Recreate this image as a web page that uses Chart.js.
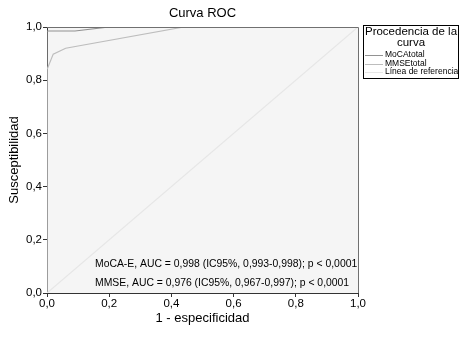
<!DOCTYPE html>
<html>
<head>
<meta charset="utf-8">
<script src="https://cdn.jsdelivr.net/npm/chart.js@4/dist/chart.umd.min.js"></script>
<style>
  html, body { margin: 0; padding: 0; background: #fff; }
  #wrap { width: 468px; height: 337px; }
</style>
</head>
<body>
<div id="wrap"><canvas id="roc" width="468" height="337"></canvas></div>
<script>
// ROC curve points (x = 1 - especificidad, y = susceptibilidad)
const mocaX = [0, 0, 0.09, 0.2, 1];
const mocaY = [0, 0.985, 0.985, 1, 1];
const mmseX = [0, 0, 0.02, 0.06, 0.44, 1];
const mmseY = [0, 0.84, 0.898, 0.92, 1, 1];
const refX = [0, 1];
const refY = [0, 1];

const seriesNames = ['MoCAtotal', 'MMSEtotal', 'Línea de referencia'];
const seriesColors = ['#929292', '#bdbdbd', '#e6e6e6'];
const notes = [
  'MoCA-E, AUC = 0,998 (IC95%, 0,993-0,998); p < 0,0001',
  'MMSE, AUC = 0,976 (IC95%, 0,967-0,997); p < 0,0001'
];

const font = 'Liberation Sans, Arial, sans-serif';
const toPoints = (xs, ys) => xs.map((x, i) => ({ x: x, y: ys[i] }));
const fmt = v => v.toFixed(1).replace('.', ',');

const decor = {
  id: 'decor',
  beforeDraw(chart) {
    const { ctx, chartArea: a } = chart;
    ctx.save();
    ctx.fillStyle = '#f5f5f5';
    ctx.fillRect(a.left, a.top, a.right - a.left, a.bottom - a.top);
    ctx.restore();
  },
  afterDraw(chart) {
    const { ctx, chartArea: a } = chart;
    ctx.save();
    // frame top / right
    ctx.strokeStyle = '#707070';
    ctx.lineWidth = 1;
    ctx.beginPath();
    ctx.moveTo(a.left, a.top + 0.5);
    ctx.lineTo(a.right + 0.5, a.top + 0.5);
    ctx.lineTo(a.right + 0.5, a.bottom);
    ctx.stroke();

    // title
    ctx.fillStyle = '#000';
    ctx.font = '13px ' + font;
    ctx.textAlign = 'center';
    ctx.textBaseline = 'middle';
    ctx.fillText('Curva ROC', (a.left + a.right) / 2, 13);

    // notes
    ctx.font = '10.4px ' + font;
    ctx.textAlign = 'left';
    ctx.fillText(notes[0], 95, 264);
    ctx.fillText(notes[1], 95, 283);

    // legend
    const lx = 363, ly = 25, lw = 95, lh = 53;
    ctx.fillStyle = '#fff';
    ctx.fillRect(lx, ly, lw, lh);
    ctx.strokeStyle = '#000';
    ctx.strokeRect(lx + 0.5, ly + 0.5, lw, lh);
    ctx.fillStyle = '#000';
    ctx.font = '11.5px ' + font;
    ctx.textAlign = 'center';
    ctx.fillText('Procedencia de la', lx + lw / 2 + 0.5, ly + 7);
    ctx.fillText('curva', lx + lw / 2 + 0.5, ly + 18);
    ctx.font = '8.5px ' + font;
    ctx.textAlign = 'left';
    seriesNames.forEach((name, i) => {
      const y = ly + 30 + i * 8.5;
      ctx.strokeStyle = seriesColors[i];
      ctx.beginPath();
      ctx.moveTo(lx + 2, Math.round(y) + 0.5);
      ctx.lineTo(lx + 20, Math.round(y) + 0.5);
      ctx.stroke();
      ctx.fillStyle = '#000';
      ctx.fillText(name, lx + 22, y);
    });
    ctx.restore();
  }
};

const lineSet = (label, data, color) => ({
  label: label,
  data: data,
  showLine: true,
  borderColor: color,
  borderWidth: 1.2,
  pointRadius: 0,
  fill: false,
  tension: 0
});

new Chart(document.getElementById('roc'), {
  type: 'scatter',
  data: {
    datasets: [
      lineSet(seriesNames[2], toPoints(refX, refY), seriesColors[2]),
      lineSet(seriesNames[1], toPoints(mmseX, mmseY), seriesColors[1]),
      lineSet(seriesNames[0], toPoints(mocaX, mocaY), seriesColors[0])
    ]
  },
  options: {
    responsive: false,
    animation: false,
    layout: { padding: { top: 27, right: 110, left: 0, bottom: 7 } },
    plugins: { legend: { display: false }, tooltip: { enabled: false } },
    scales: {
      x: {
        type: 'linear', min: 0, max: 1,
        afterFit: s => { s.height = 37; },
        border: { display: true, color: '#333', width: 1 },
        grid: { drawOnChartArea: false, drawTicks: true, tickLength: 4, color: '#333' },
        ticks: { stepSize: 0.2, padding: 0, color: '#000', font: { family: font, size: 11.5 }, callback: v => fmt(v), maxRotation: 0 },
        title: { display: true, text: '1 - especificidad', color: '#000', font: { family: font, size: 13 }, padding: { top: 4 } }
      },
      y: {
        type: 'linear', min: 0, max: 1,
        afterFit: s => { s.width = 47; },
        border: { display: true, color: '#333', width: 1 },
        grid: { drawOnChartArea: false, drawTicks: true, tickLength: 4, color: '#333' },
        ticks: { stepSize: 0.2, padding: 1, color: '#000', font: { family: font, size: 11.5 }, callback: v => fmt(v) },
        title: { display: true, text: 'Susceptibilidad', color: '#000', font: { family: font, size: 13 }, padding: { top: 7, bottom: 0 } }
      }
    }
  },
  plugins: [decor]
});
</script>
</body>
</html>
